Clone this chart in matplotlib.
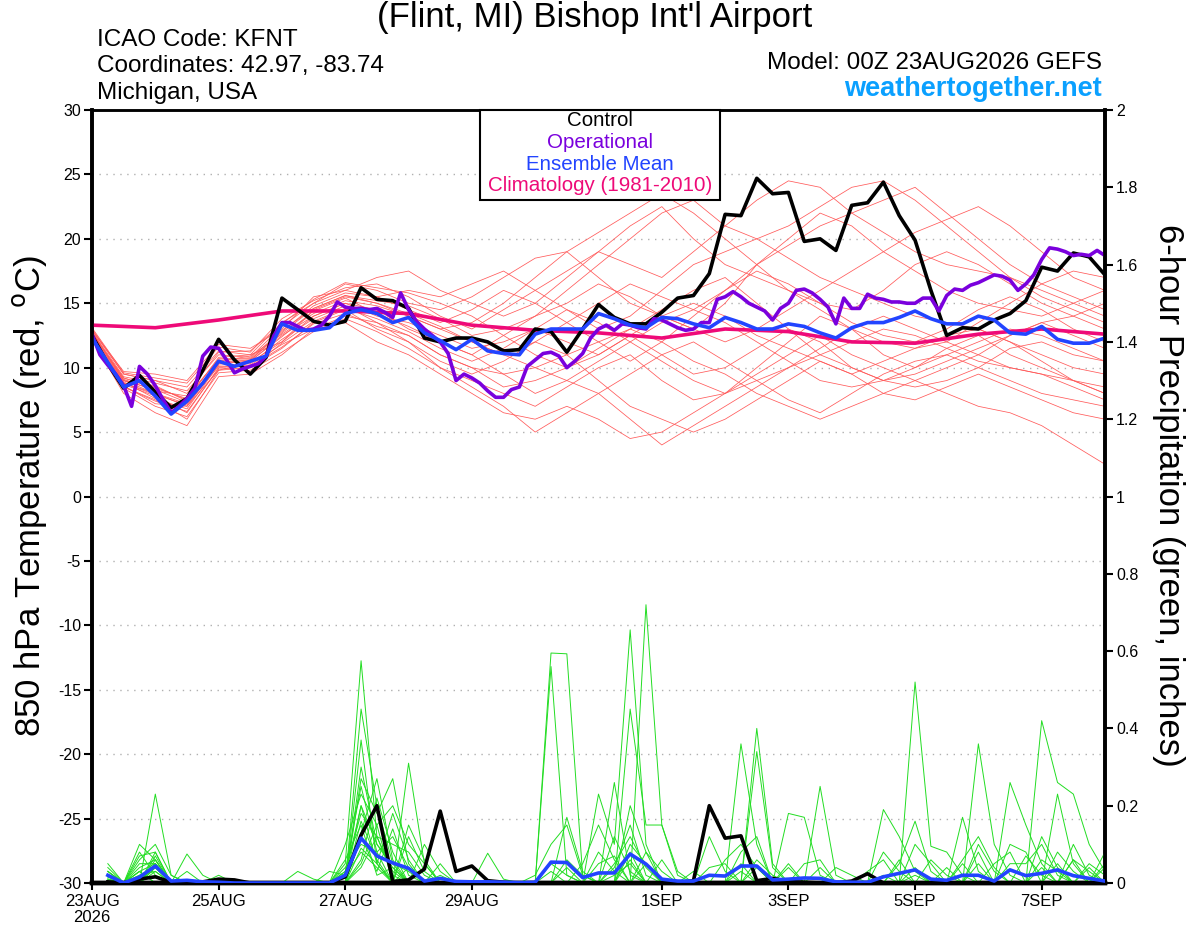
import numpy as np
import matplotlib
matplotlib.use("Agg")
import matplotlib.pyplot as plt
from matplotlib.patches import Rectangle

plt.rcParams['font.family'] = ['Liberation Sans', 'DejaVu Sans']
plt.rcParams['axes.unicode_minus'] = False

# ---- data (time axis in days after 00Z 23AUG2026) ----
tick_days = [0, 2, 4, 6, 9, 11, 13, 15]
tick_labels = ["23AUG\n2026", "25AUG", "27AUG", "29AUG", "1SEP", "3SEP", "5SEP", "7SEP"]

# control run, 850 hPa temperature, 6-hourly
ctrl_temp = [12.5, 10.3, 8.4, 9.4, 8.1, 6.9, 7.6, 9.8, 12.2, 10.6, 9.5, 10.8, 15.4, 14.5, 13.6, 13.3,
             13.6, 16.2, 15.3, 15.2, 14.6, 12.3, 12.0, 12.3, 12.3, 12.0, 11.3, 11.4, 13.0, 12.8, 11.2, 13.0,
             14.9, 13.9, 13.4, 13.4, 14.3, 15.4, 15.6, 17.3, 21.9, 21.8, 24.7, 23.5, 23.6, 19.8, 20.0, 19.1,
             22.6, 22.8, 24.4, 21.8, 19.9, 16.0, 12.5, 13.1, 13.0, 13.7, 14.2, 15.2, 17.8, 17.5, 18.9, 18.6,
             17.2]

# operational run, 3-hourly
oper_temp = [12.6, 11.0, 10.2, 9.5, 8.6, 7.0, 10.1, 9.5, 8.6, 7.5, 6.5, 7.0, 7.6, 8.4, 10.9, 11.6,
             11.5, 10.6, 9.6, 9.9, 10.1, 10.3, 10.9, 12.5, 13.5, 13.5, 13.2, 12.9, 13.0, 13.3, 14.0, 15.1,
             14.7, 14.6, 14.6, 14.5, 14.6, 14.3, 13.9, 15.8, 14.5, 13.6, 13.0, 12.5, 12.0, 11.1, 9.0, 9.5,
             9.2, 8.8, 8.2, 7.7, 7.7, 8.3, 8.5, 10.1, 10.6, 11.1, 11.2, 10.9, 10.0, 10.5, 11.1, 12.3,
             13.0, 13.3, 12.9, 13.4, 13.3, 13.1, 13.0, 13.8, 13.7, 13.4, 13.1, 12.9, 13.0, 13.5, 13.5, 15.3,
             15.5, 15.9, 15.5, 15.0, 14.7, 14.4, 13.7, 14.6, 15.0, 16.0, 16.1, 15.8, 15.3, 14.7, 13.4, 15.4,
             14.6, 14.6, 15.7, 15.4, 15.3, 15.1, 15.1, 15.0, 15.0, 15.4, 15.4, 14.4, 15.6, 16.1, 16.0, 16.4,
             16.6, 16.9, 17.2, 17.1, 16.8, 16.0, 16.5, 17.2, 18.4, 19.3, 19.2, 19.0, 18.7, 18.8, 18.7, 19.1,
             18.7]

# ensemble mean, 6-hourly
mean_temp = [12.3, 10.4, 8.5, 9.0, 7.8, 6.4, 7.4, 8.8, 10.5, 10.1, 10.5, 10.9, 13.4, 12.9, 12.9, 13.1,
             14.2, 14.5, 14.2, 13.5, 13.9, 12.7, 12.1, 11.4, 12.2, 11.3, 11.1, 11.0, 12.6, 13.0, 13.0, 13.0,
             14.2, 13.8, 13.3, 13.1, 13.9, 13.8, 13.4, 13.1, 13.9, 13.5, 13.0, 13.0, 13.4, 13.2, 12.7, 12.3,
             13.1, 13.5, 13.5, 13.9, 14.4, 13.8, 13.4, 13.4, 14.0, 13.7, 12.7, 12.6, 13.2, 12.2, 11.9, 11.9,
             12.3]

# climatology (1981-2010), daily
clim_temp = [13.3, 13.1, 13.7, 14.4, 14.4, 14.2, 13.3, 12.9, 12.7, 12.3, 13.0, 12.8, 12.0, 11.9, 12.6,
             13.0, 12.6]

# ensemble members, 12-hourly
t_m01 = [12.8, 9.0, 8.0, 7.0, 10.3, 10.5, 12.5, 14.0, 15.0, 14.5, 13.0, 12.0, 11.0, 12.5, 14.0, 16.0, 18.0,
         20.0, 22.0, 23.0, 21.0, 20.0, 18.5, 17.0, 16.0, 15.0, 14.0, 13.5, 13.0, 12.0, 11.0, 10.0, 9.5]
t_m02 = [12.5, 8.5, 7.5, 6.0, 9.8, 10.0, 11.5, 13.5, 14.5, 13.0, 12.0, 10.0, 9.0, 8.0, 7.0, 8.5, 10.0,
         11.0, 9.0, 7.5, 8.0, 10.0, 12.0, 14.0, 13.0, 11.0, 10.0, 11.5, 12.5, 11.0, 10.0, 9.0, 8.0]
t_m03 = [13.0, 9.5, 9.0, 8.5, 11.3, 11.0, 13.5, 15.0, 16.5, 16.0, 15.0, 14.5, 15.5, 17.0, 18.5, 19.0, 17.0,
         15.0, 14.0, 13.0, 15.0, 18.0, 20.0, 22.0, 21.0, 19.0, 17.5, 16.0, 15.0, 14.5, 14.0, 15.0, 16.0]
t_m04 = [12.2, 8.0, 6.5, 5.5, 9.3, 9.5, 11.0, 13.0, 14.0, 13.5, 12.5, 11.0, 10.0, 9.5, 10.0, 11.0, 12.0,
         13.0, 14.5, 16.0, 17.0, 15.0, 13.0, 11.0, 10.0, 9.0, 8.5, 9.0, 10.0, 11.5, 12.0, 11.0, 10.5]
t_m05 = [12.6, 9.2, 8.5, 7.5, 10.8, 11.0, 12.0, 14.5, 15.5, 15.0, 14.0, 13.0, 12.0, 11.0, 10.0, 9.0, 8.0,
         6.0, 4.0, 5.5, 7.0, 8.5, 10.0, 11.0, 12.0, 13.0, 12.5, 11.5, 10.5, 10.0, 9.5, 8.5, 7.5]
t_m06 = [12.9, 9.7, 9.5, 9.0, 11.8, 11.5, 13.0, 15.5, 16.0, 17.0, 17.5, 16.0, 15.0, 14.0, 15.0, 17.0, 19.0,
         21.0, 22.5, 20.0, 18.0, 17.0, 16.0, 15.0, 14.5, 16.0, 18.0, 19.0, 18.0, 16.5, 15.0, 14.0, 13.0]
t_m07 = [12.4, 8.7, 7.8, 6.5, 10.0, 10.2, 11.8, 13.0, 13.5, 12.0, 11.0, 9.5, 8.0, 6.5, 6.0, 7.0, 6.0,
         4.5, 5.0, 6.5, 8.0, 9.5, 11.0, 12.5, 11.0, 10.0, 9.0, 8.0, 7.0, 6.5, 5.5, 4.0, 2.5]
t_m08 = [12.7, 9.1, 8.2, 7.8, 10.6, 10.6, 12.8, 14.8, 15.8, 15.5, 14.5, 13.5, 14.5, 16.0, 15.0, 13.5, 12.0,
         10.5, 12.0, 14.0, 16.0, 18.0, 19.5, 21.0, 22.0, 23.0, 24.0, 22.0, 20.0, 18.0, 16.5, 15.5, 14.5]
t_m09 = [12.3, 8.6, 7.2, 7.0, 9.8, 10.4, 12.0, 14.0, 15.0, 14.0, 13.5, 12.5, 11.5, 12.0, 13.0, 12.0, 11.0,
         12.5, 14.0, 15.0, 14.0, 12.5, 11.5, 10.5, 9.5, 10.5, 11.5, 12.5, 13.0, 12.0, 10.5, 9.0, 8.0]
t_m10 = [12.8, 9.3, 8.8, 8.2, 11.0, 10.8, 13.2, 15.0, 16.0, 15.5, 16.0, 15.5, 16.5, 17.5, 16.0, 14.5, 13.0,
         14.0, 16.0, 18.0, 19.0, 20.0, 21.0, 22.5, 24.0, 24.5, 23.0, 21.0, 19.0, 17.0, 15.5, 14.5, 13.5]
t_m11 = [12.5, 8.9, 7.6, 6.8, 10.2, 10.3, 12.2, 13.8, 14.8, 13.5, 12.0, 10.5, 9.5, 10.5, 12.0, 11.0, 9.0,
         7.0, 6.0, 5.0, 6.0, 7.5, 9.0, 10.5, 9.5, 8.0, 7.5, 8.5, 9.5, 8.5, 7.5, 6.5, 6.0]
t_m12 = [12.6, 9.0, 8.6, 7.4, 10.5, 10.9, 12.6, 14.2, 15.2, 14.8, 14.0, 13.0, 13.5, 15.0, 17.0, 19.0, 20.5,
         22.0, 23.5, 22.0, 20.0, 18.0, 16.0, 14.5, 13.0, 12.0, 11.5, 12.0, 13.5, 15.0, 16.5, 17.5, 17.0]
t_m13 = [12.4, 8.8, 8.0, 7.2, 10.1, 10.1, 11.6, 13.4, 14.2, 13.2, 12.5, 11.0, 10.0, 8.5, 9.0, 10.0, 11.5,
         13.0, 12.0, 10.5, 9.5, 8.0, 7.0, 6.0, 7.0, 8.0, 9.0, 10.0, 11.0, 12.5, 13.5, 12.5, 11.5]
t_m14 = [13.1, 9.6, 9.2, 8.8, 11.6, 11.2, 13.8, 15.2, 16.2, 16.5, 15.5, 14.0, 13.0, 14.5, 16.0, 17.5, 19.0,
         18.0, 17.0, 19.0, 21.0, 23.0, 24.5, 24.0, 22.0, 20.5, 19.0, 18.0, 17.5, 17.0, 16.0, 15.0, 14.0]
t_m15 = [12.2, 8.4, 7.0, 6.2, 9.6, 9.8, 11.2, 12.8, 13.8, 12.8, 11.5, 10.0, 8.5, 7.0, 5.0, 6.5, 8.0,
         9.5, 11.0, 12.0, 10.5, 9.0, 7.5, 6.5, 8.0, 9.5, 10.5, 11.0, 10.0, 9.0, 8.0, 7.5, 7.0]
t_m16 = [12.7, 9.2, 8.4, 7.6, 10.7, 10.7, 12.9, 14.6, 15.6, 15.2, 14.8, 13.8, 12.5, 13.0, 14.0, 15.0, 16.5,
         15.5, 14.0, 13.0, 12.0, 13.0, 14.5, 16.0, 17.5, 19.0, 20.5, 21.5, 22.5, 21.0, 19.0, 17.0, 16.0]
t_m17 = [12.5, 8.8, 7.9, 7.1, 10.3, 10.5, 12.4, 14.4, 15.4, 14.2, 13.2, 12.0, 11.0, 9.5, 8.0, 9.0, 10.5,
         12.0, 13.5, 14.5, 13.5, 12.0, 10.5, 9.0, 8.5, 9.0, 10.0, 11.0, 12.0, 13.0, 12.5, 11.5, 10.5]
t_m18 = [12.9, 9.5, 9.0, 8.0, 11.2, 11.3, 13.4, 15.3, 16.6, 16.2, 15.8, 15.0, 14.0, 12.5, 11.0, 10.0, 11.0,
         12.5, 11.0, 9.5, 10.0, 11.5, 13.0, 12.0, 10.0, 9.0, 9.5, 10.5, 11.5, 12.5, 13.5, 14.0, 15.0]
t_m19 = [12.3, 8.5, 7.4, 6.6, 9.9, 10.0, 11.9, 13.6, 14.6, 13.8, 12.8, 11.5, 10.5, 11.5, 13.0, 14.5, 13.5,
         12.0, 10.5, 9.0, 8.0, 9.0, 10.0, 11.5, 13.0, 14.0, 13.0, 12.0, 11.0, 10.0, 9.5, 9.0, 8.5]
t_m20 = [12.6, 9.0, 8.3, 7.3, 10.4, 10.6, 12.7, 14.6, 15.6, 15.0, 14.2, 13.2, 12.0, 11.0, 12.0, 13.5, 15.0,
         16.5, 15.5, 14.5, 16.0, 17.5, 16.5, 15.0, 13.5, 12.5, 12.0, 13.0, 14.5, 15.5, 14.5, 13.0, 12.0]

# 6-hour precipitation (inches), valid at steps 1..64
ctrl_prcp = [.003, 0, .01, .016, .002, .001, .003, .01, .008, 0, 0, 0, 0, 0, 0, .016,
             .124, .2, .004, .008, .036, .186, .03, .044, .006, .002, 0, 0, 0, 0, 0, 0,
             0, 0, 0, 0, 0, .006, .2, .116, .122, .006, .012, .004, .002, 0, 0, .005,
             .024, 0, 0, 0, 0, 0, 0, 0, 0, 0, 0, 0, 0, 0, 0, 0]
mean_prcp = [.02, 0, .015, .044, .005, .007, .003, .002, 0, 0, 0, 0, 0, 0, 0, .02,
             .116, .07, .052, .038, .005, .012, .004, .003, .003, .002, .001, .002, .054, .053, .014, .026,
             .026, .075, .049, .01, .005, .005, .02, .018, .044, .044, .008, .01, .013, .012, .003, .002,
             .002, .016, .025, .034, .01, .007, .02, .02, .005, .034, .019, .025, .034, .019, .012, .005]

# ensemble members: non-zero 6-hour totals {step: inches}
p_m01 = {1: .02, 3: .03, 4: .05, 16: .05, 17: .575, 18: .12, 19: .03, 33: .02, 34: .05, 41: .03, 52: .02, 60: .04}
p_m02 = {1: .04, 3: .1, 4: .06, 17: .45, 18: .2, 19: .05, 29: .595, 30: .593, 31: .02, 42: .04, 50: .02, 56: .05}
p_m03 = {1: .03, 4: .23, 5: .02, 17: .27, 18: .18, 19: .27, 20: .05, 32: .23, 33: .1, 34: .655, 35: .1,
         44: .18, 45: .17, 46: .02, 61: .05}
p_m04 = {1: .01, 3: .07, 4: .08, 6: .075, 7: .02, 16: .1, 17: .23, 18: .15, 20: .31, 21: .05, 35: .72, 36: .15,
         37: .02, 52: .52, 53: .095, 54: .08, 55: .02}
p_m05 = {1: .02, 3: .05, 4: .05, 16: .03, 17: .18, 18: .12, 19: .1, 20: .08, 21: .02, 29: .56, 30: .02, 33: .26,
         34: .02, 41: .36, 42: .1, 56: .36, 57: .1, 58: .02}
p_m06 = {3: .04, 4: .06, 8: .02, 17: .13, 18: .27, 19: .06, 22: .02, 34: .45, 35: .15, 36: .15, 37: .03,
         42: .4, 43: .05, 58: .26, 59: .15, 60: .05, 64: .08}
p_m07 = {1: .05, 4: .07, 13: .03, 14: .01, 17: .09, 18: .05, 19: .18, 20: .06, 30: .17, 31: .03, 39: .12,
         40: .03, 42: .34, 43: .04, 60: .42, 61: .26, 62: .23, 63: .1, 64: .03}
p_m08 = {1: .01, 3: .02, 4: .04, 17: .37, 18: .05, 20: .12, 21: .03, 25: .077, 26: .01, 32: .08, 33: .03,
         46: .25, 47: .02, 50: .19, 51: .12, 52: .03, 61: .23, 62: .05}
p_m09 = {4: .03, 15: .03, 16: .02, 17: .2, 18: .1, 19: .05, 20: .03, 28: .02, 29: .1, 30: .15, 31: .02,
         34: .1, 35: .05, 44: .05, 55: .17, 56: .03, 62: .1, 63: .02}
p_m10 = {1: .03, 3: .06, 4: .1, 5: .02, 17: .05, 18: .15, 19: .2, 20: .1, 21: .05, 33: .05, 34: .12, 35: .04,
         51: .05, 52: .16, 53: .03, 58: .05, 59: .05, 60: .1, 61: .02}
p_m11 = {1: .02, 4: .04, 16: .04, 17: .1, 18: .08, 19: .12, 20: .04, 31: .05, 32: .15, 33: .06, 41: .08,
         42: .12, 56: .1, 57: .03, 63: .05, 64: .02}
p_m12 = {3: .03, 6: .03, 17: .16, 18: .06, 21: .1, 22: .03, 34: .2, 35: .08, 45: .05, 46: .06, 53: .06,
         54: .02, 58: .1, 59: .08, 62: .06}
p_m13 = {1: .015, 4: .05, 17: .06, 18: .22, 19: .08, 29: .05, 30: .02, 36: .06, 39: .04, 40: .05, 50: .08,
         51: .03, 60: .12, 61: .04}
p_m14 = {4: .06, 17: .3, 18: .1, 19: .04, 33: .12, 34: .03, 40: .06, 41: .1, 42: .04, 55: .06, 56: .12,
         57: .04, 64: .05}
p_m15 = {1: .03, 3: .08, 4: .02, 16: .02, 17: .08, 18: .04, 20: .15, 21: .06, 35: .08, 36: .03, 47: .04,
         48: .02, 59: .07, 60: .02}
p_m16 = {4: .04, 17: .12, 18: .03, 19: .14, 20: .02, 30: .06, 31: .02, 34: .08, 42: .06, 43: .02, 52: .1,
         53: .05, 61: .08, 62: .03}
p_m17 = {1: .02, 3: .03, 17: .2, 18: .05, 22: .05, 32: .05, 33: .07, 44: .04, 51: .06, 57: .05, 58: .08,
         63: .04}
p_m18 = {4: .08, 16: .06, 17: .15, 18: .02, 19: .04, 30: .04, 35: .05, 38: .03, 49: .03, 50: .06, 54: .04,
         62: .06, 63: .03}
p_m19 = {1: .01, 3: .02, 4: .03, 17: .04, 18: .12, 19: .02, 29: .03, 34: .06, 41: .05, 52: .04, 56: .08,
         64: .04}
p_m20 = {4: .05, 16: .03, 17: .25, 18: .08, 20: .04, 33: .04, 34: .15, 35: .02, 46: .04, 55: .05, 60: .06,
         61: .03}

temp_members = [t_m01, t_m02, t_m03, t_m04, t_m05, t_m06, t_m07, t_m08, t_m09, t_m10,
                t_m11, t_m12, t_m13, t_m14, t_m15, t_m16, t_m17, t_m18, t_m19, t_m20]
prcp_members = [p_m01, p_m02, p_m03, p_m04, p_m05, p_m06, p_m07, p_m08, p_m09, p_m10,
                p_m11, p_m12, p_m13, p_m14, p_m15, p_m16, p_m17, p_m18, p_m19, p_m20]

t6 = np.arange(len(ctrl_temp)) * 0.25
t3 = np.arange(len(oper_temp)) * 0.125
t12 = np.arange(len(t_m01)) * 0.5
tday = np.arange(len(clim_temp))
tp = t6[1:]

# ---- figure ----
W, H = 1200, 927
fig = plt.figure(figsize=(W / 100, H / 100), dpi=100)
ax = fig.add_axes([92 / W, 1 - 883 / H, (1105 - 92) / W, (883 - 110) / H])

for m in temp_members:
    ax.plot(t12, m, color='#ff5a5a', lw=0.55, zorder=2)
ax.plot(tday, clim_temp, color='#ee0a78', lw=2.6, zorder=4)
ax.plot(t6, ctrl_temp, color='black', lw=2.6, zorder=5)
ax.plot(t3, oper_temp, color='#7a00dd', lw=2.6, zorder=6)
ax.plot(t6, mean_temp, color='#2244ff', lw=2.6, zorder=7)

ax.set_xlim(0, 16)
ax.set_ylim(-30, 30)
ax.set_yticks(np.arange(-30, 31, 5))
ax.set_xticks(tick_days)
ax.set_xticklabels(tick_labels, fontsize=12, linespacing=1.05)
for y in range(-25, 30, 5):
    ax.axhline(y, color='#b0b0b0', lw=1.0, ls=(0, (1, 4)), zorder=1)
ax.tick_params(axis='y', labelsize=11.5, direction='out', length=6, width=1.5, pad=2)
ax.tick_params(axis='x', direction='out', length=5, width=1.5, pad=3)

ax2 = ax.twinx()
for d in prcp_members:
    vals = np.zeros(len(tp))
    for step, amt in d.items():
        vals[step - 1] = amt
    ax2.plot(tp, vals, color='#22dd22', lw=0.7, zorder=2)
ax2.plot(tp, ctrl_prcp, color='black', lw=2.6, zorder=5)
ax2.plot(tp, mean_prcp, color='#2244ff', lw=2.6, zorder=6)
ax2.set_ylim(0, 2)
ax2.set_yticks(np.arange(0, 2.01, 0.2))
ax2.set_yticklabels(['%g' % v for v in np.round(np.arange(0, 2.01, 0.2), 1)])
ax2.tick_params(axis='y', labelsize=11.5, direction='out', length=6, width=1.5, pad=2)

for a in (ax, ax2):
    a.spines['left'].set_linewidth(2.6)
    a.spines['right'].set_linewidth(2.6)
    a.spines['bottom'].set_linewidth(3.2)
    a.spines['top'].set_linewidth(1.8)

# axis titles
fig.text(30 / W, 1 - 496 / H, "850 hPa Temperature (red, $^{\\mathrm{o}}$C)", rotation=90,
         ha='center', va='center', fontsize=25)
fig.text(1168 / W, 1 - 495 / H, "6-hour Precipitation (green, inches)", rotation=270,
         ha='center', va='center', fontsize=25)

# header
fig.text(595 / W, 1 - 18 / H, "(Flint, MI) Bishop Int'l Airport", ha='center', va='center', fontsize=25)
fig.text(97 / W, 1 - 40 / H, "ICAO Code: KFNT", ha='left', va='center', fontsize=17.5)
fig.text(97 / W, 1 - 66 / H, "Coordinates: 42.97, -83.74", ha='left', va='center', fontsize=17.5)
fig.text(97 / W, 1 - 93 / H, "Michigan, USA", ha='left', va='center', fontsize=17.5)
fig.text(1102 / W, 1 - 63 / H, "Model: 00Z 23AUG2026 GEFS", ha='right', va='center', fontsize=17.5)
fig.text(1102 / W, 1 - 89 / H, "weathertogether.net", ha='right', va='center', fontsize=19.5,
         fontweight='bold', color='#0aa0ff')

# legend box
fig.patches.append(Rectangle((480 / W, 1 - 200 / H), 240 / W, 90 / H, transform=fig.transFigure,
                             facecolor='white', edgecolor='black', lw=1.5, zorder=10))
legend_items = [("Control", 'black'), ("Operational", '#7a00dd'),
                ("Ensemble Mean", '#2244ff'), ("Climatology (1981-2010)", '#ee0a78')]
for k, (label, col) in enumerate(legend_items):
    fig.text(600 / W, 1 - (121 + 21.5 * k) / H, label, ha='center', va='center', fontsize=14.8,
             color=col, zorder=11)

fig.savefig("out.png", dpi=100)
